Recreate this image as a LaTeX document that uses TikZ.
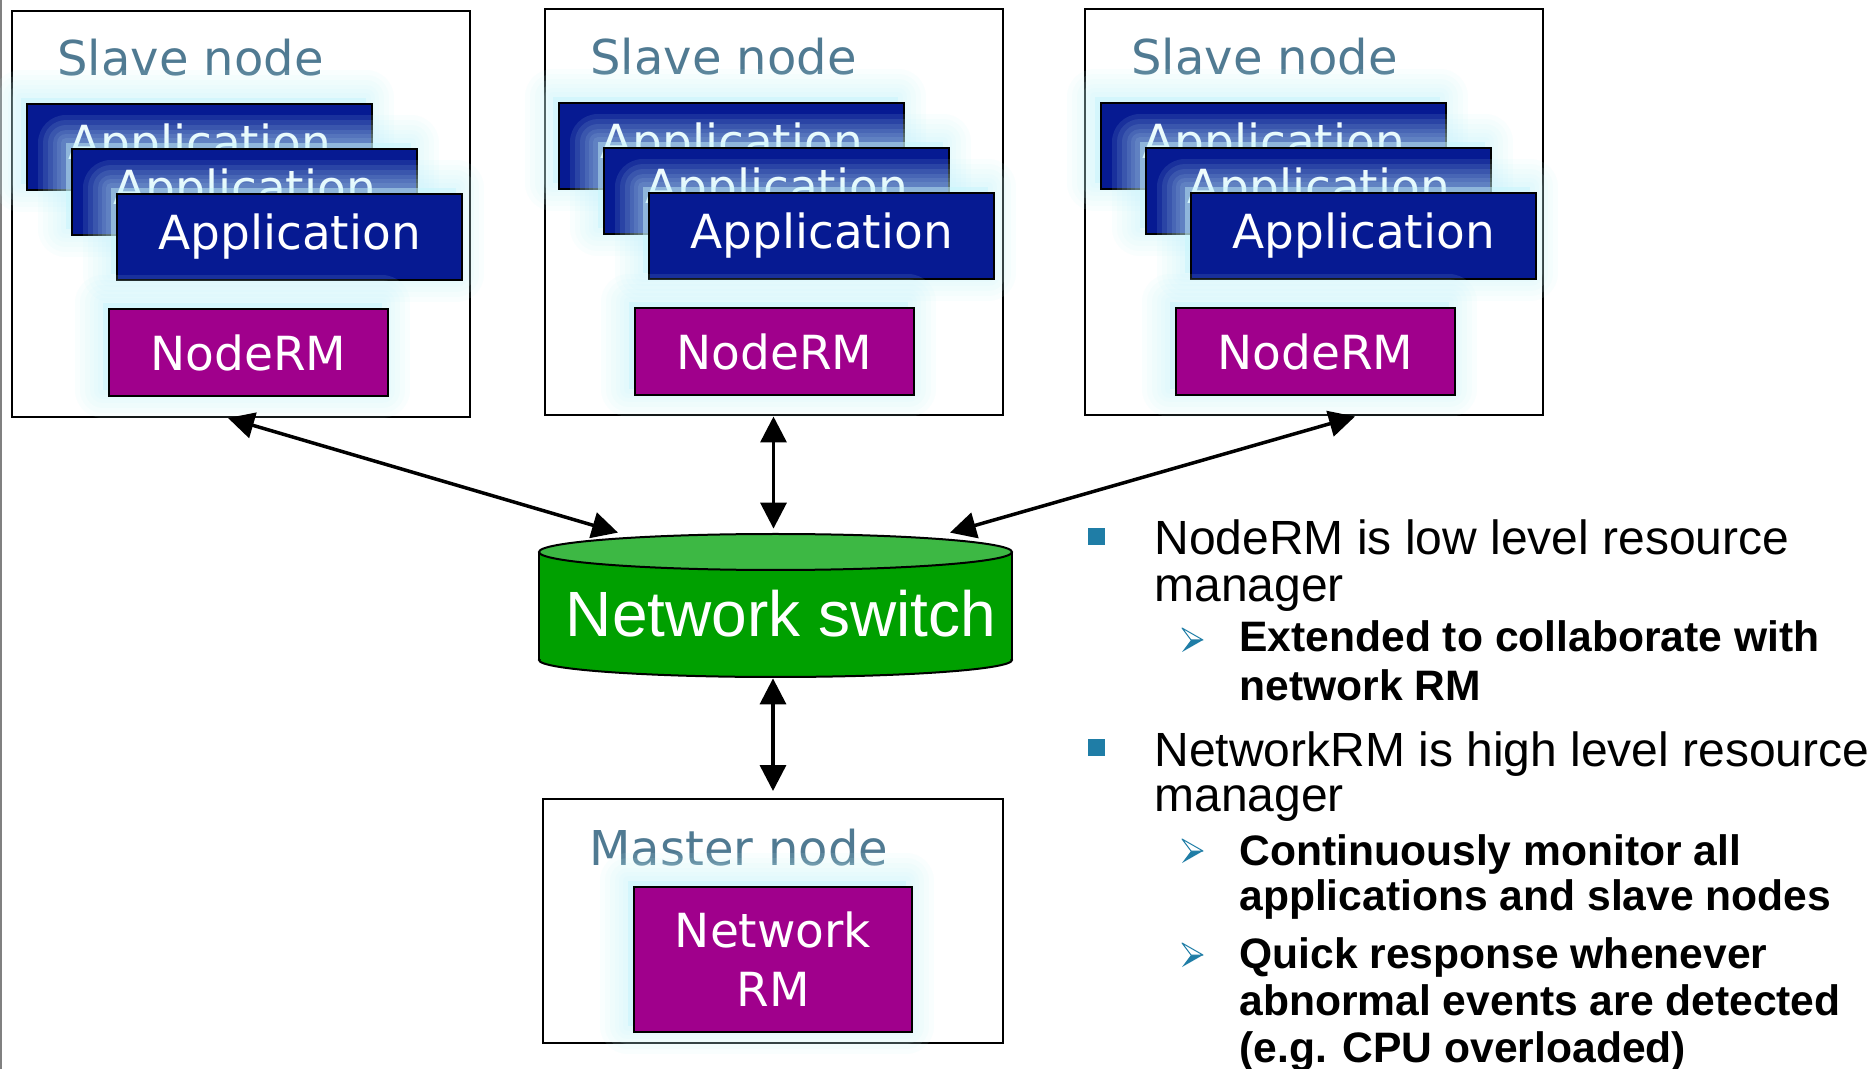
\documentclass[tikz,border=0pt]{standalone}
\usepackage{fontspec}
\setmainfont{DejaVu Sans}
\newfontfamily\arialfont{Liberation Sans}
\usetikzlibrary{arrows.meta,shadows}

\definecolor{titlegray}{RGB}{80,122,146}
\definecolor{appblue}{RGB}{6,26,146}
\definecolor{rmpurple}{RGB}{160,0,140}
\definecolor{swgreen}{RGB}{0,160,0}
\definecolor{swtopgreen}{RGB}{61,184,68}
\definecolor{bulletblue}{RGB}{31,125,166}
\definecolor{glowcyan}{RGB}{200,246,252}

\tikzset{
	nodebox/.style={draw=black, line width=1pt, fill=white, minimum width=229pt, minimum height=203pt, inner sep=0pt},
	boxtitle/.style={anchor=base west, inner sep=0pt, text=titlegray, font=\fontsize{24}{28}\selectfont},
	glowlayer/.style={general shadow={fill=glowcyan, draw=glowcyan, line join=round, line width=#1, opacity=0.1, shadow xshift=-3pt, shadow yshift=3pt}},
	glow/.style={glowlayer=28pt, glowlayer=23pt, glowlayer=18pt, glowlayer=13pt, glowlayer=9pt, glowlayer=5pt},
	appbox/.style={glow, draw=black, line width=1pt, fill=appblue, text=white, minimum width=172.5pt, minimum height=43pt, inner sep=0pt, font=\fontsize{23.5}{28}\selectfont},
	rmbox/.style={glow, draw=black, line width=1pt, fill=rmpurple, text=white, inner sep=0pt, align=center, font=\fontsize{23.5}{29.5}\selectfont},
	swlabel/.style={anchor=base, inner sep=0pt, text=white, font=\arialfont\fontsize{32}{36}\selectfont},
	link/.style={{Triangle[length=13pt,width=13pt]}-{Triangle[length=13pt,width=13pt]}, line width=1.75pt},
	bulletsq/.style={fill=bulletblue, minimum size=8.5pt, inner sep=0pt},
	maintext/.style={anchor=base west, inner sep=0pt, font=\arialfont\fontsize{24}{28}\selectfont},
	subtext/.style={anchor=base west, inner sep=0pt, font=\arialfont\bfseries\fontsize{21.3}{25}\selectfont},
	subarrow/.pic={
		\fill[bulletblue] (9,-12) -- (21,-12) -- (0,-24) -- cycle;
		\draw[bulletblue, line width=0.5pt, fill=white, line join=round] (0,0) -- (21,-12) -- (9,-12) -- cycle;
	}
}

\begin{document}
\begin{tikzpicture}[x=0.5pt,y=0.5pt,yscale=-1,xscale=1]
	\fill[white] (0,0) rectangle (1876,1069);
	\useasboundingbox (0,0) rectangle (1876,1069);
	\draw[gray, line width=1pt] (1,0) -- (1,1069);
	\node[nodebox] (slave1) at (241,214) {};
	\node[nodebox] (slave2) at (773.5,212.5) {};
	\node[nodebox] (slave3) at (1313.5,212.5) {};
	\node[boxtitle] (title1) at (57,76) {Slave node};
	\node[boxtitle] (title2) at (590,75) {Slave node};
	\node[boxtitle] (title3) at (1131,75) {Slave node};
	\node[appbox] (appa1) at (199.5,147) {Application};
	\node[appbox] (appb1) at (244.5,192) {Application};
	\node[appbox] (appc1) at (289.5,237) {Application};
	\node[appbox] (appa2) at (731.5,146) {Application};
	\node[appbox] (appb2) at (776.5,191) {Application};
	\node[appbox] (appc2) at (821.5,236) {Application};
	\node[appbox] (appa3) at (1273.5,146) {Application};
	\node[appbox] (appb3) at (1318.5,191) {Application};
	\node[appbox] (appc3) at (1363.5,236) {Application};
	\node[rmbox, minimum width=139.5pt, minimum height=43.5pt] (noderm1) at (248.5,352.5) {NodeRM};
	\node[rmbox, minimum width=139.5pt, minimum height=43.5pt] (noderm2) at (774.5,351.5) {NodeRM};
	\node[rmbox, minimum width=139.5pt, minimum height=43.5pt] (noderm3) at (1315.5,351.5) {NodeRM};
	\node[nodebox, minimum height=122pt, minimum width=230pt] (master) at (773,921) {};
	\node[boxtitle] (title4) at (589,865) {Master node};
	\node[rmbox, minimum width=139pt, minimum height=72.5pt] (networkrm) at (773,959.5) {Network\\RM};
	\fill[swgreen] (539,552) rectangle (1012,660);
	\fill[swgreen] (775.5,660) ellipse [x radius=236.5, y radius=17];
	\begin{scope}
		\clip (530,660) rectangle (1020,690);
		\draw[line width=1pt] (775.5,660) ellipse [x radius=236.5, y radius=17];
	\end{scope}
	\draw[line width=1pt] (539,552) -- (539,660) (1012,552) -- (1012,660);
	\draw[line width=1pt, fill=swtopgreen] (775.5,552) ellipse [x radius=236.5, y radius=18];
	\node[minimum width=236.5pt, minimum height=72.5pt, inner sep=0pt] (switch) at (775.5,605.5) {};
	\node[swlabel] (swtext) at (781,637) {Network switch};
	\draw[link] ([xshift=-6.5pt]slave1.south) -- ([xshift=-78.75pt]switch.north);
	\draw[link, shorten >=2pt] (slave2.south) -- (slave2.south |- switch.north);
	\draw[link] ([xshift=20.75pt]slave3.south) -- ([xshift=87.25pt]switch.north);
	\draw[link, shorten >=3.5pt] (master.north |- switch.south) -- (master.north);
	\node[bulletsq] (sq1) at (1096.5,536.5) {};
	\node[bulletsq] (sq2) at (1096.5,747.5) {};
	\node[maintext] (line1) at (1154,555) {NodeRM is low level resource};
	\node[maintext] (line2) at (1154,602) {manager};
	\pic at (1182,628) {subarrow};
	\node[subtext] (line3) at (1239,652) {Extended to collaborate with};
	\node[subtext] (line4) at (1239,701) {network RM};
	\node[maintext] (line5) at (1154,766) {NetworkRM is high level resource};
	\node[maintext] (line6) at (1154,812) {manager};
	\pic at (1182,839) {subarrow};
	\node[subtext] (line7) at (1239,865) {Continuously monitor all};
	\node[subtext] (line8) at (1239,910) {applications and slave nodes};
	\pic at (1182,943) {subarrow};
	\node[subtext] (line9) at (1239,968) {Quick response whenever};
	\node[subtext] (line10) at (1239,1015) {abnormal events are detected};
	\node[subtext] (line11) at (1239,1062) {(e.g. CPU overloaded)};
\end{tikzpicture}
\end{document}
